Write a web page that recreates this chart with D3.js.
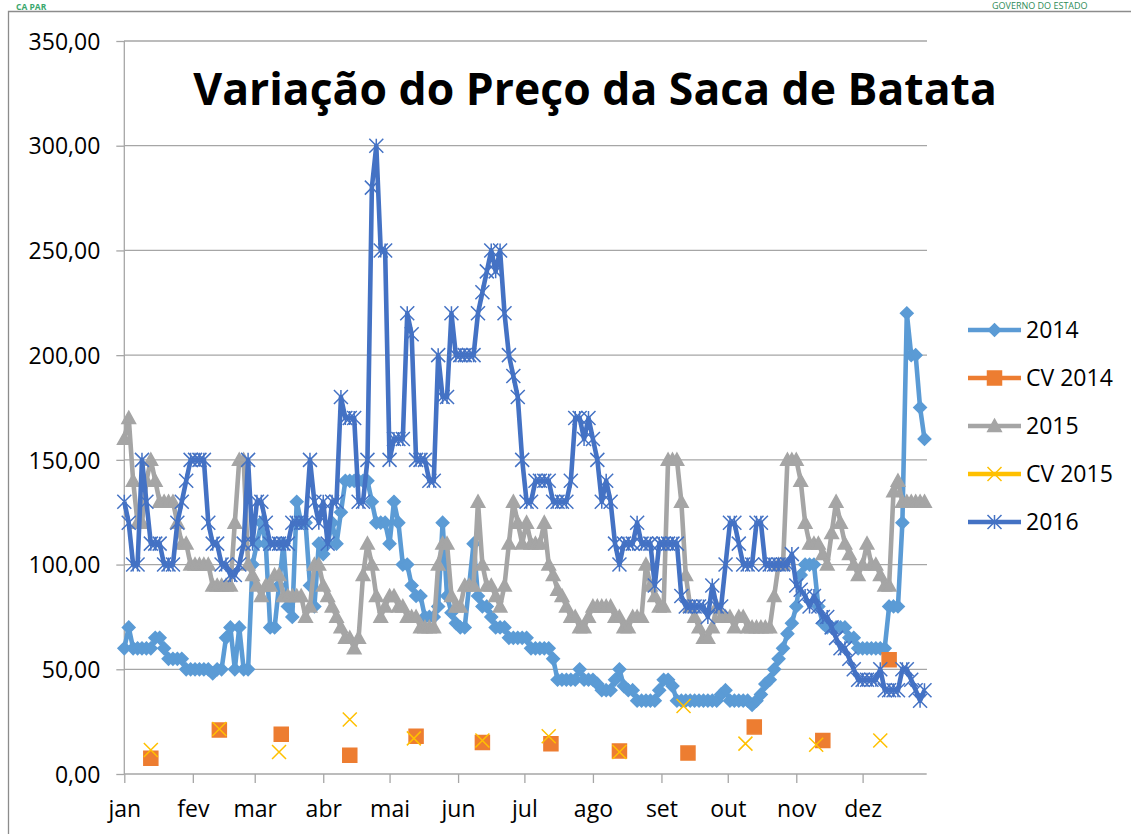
<!DOCTYPE html>
<html><head><meta charset="utf-8">
<script src="https://cdn.jsdelivr.net/npm/d3@7"></script>
<style>html,body{margin:0;padding:0;background:#fff;} svg{display:block;}</style>
</head><body>
<svg id="chart" width="1131" height="834"></svg>
<script>
// ---- data ----
const months = ["jan","fev","mar","abr","mai","jun","jul","ago","set","out","nov","dez"];
const yTicks = [0,50,100,150,200,250,300,350];
const seriesNames = ["2014","CV 2014","2015","CV 2015","2016"];
// day-of-year of each price reading (every 2 days)
const sampleDays = d3.range(0, 363, 2);
const price2014 = [60,70,60,60,60,60,60,65,65,60, 55,55,55,55,50,50,50,50,50,50,
  48,50,50,65,70,50,70,50,50,100, 110,120,110,70,70,90,110,80,75,130,
  120,120,90,80,110,105,110,120,110,125, 140,140,140,140,140,140,130,120,120,120,
  110,130,120,100,100,90,85,85,75,75, 75,80,120,85,77,72,70,70,90,110,
  85,80,80,75,70,70,70,65,65,65, 65,65,60,60,60,60,60,55,45,45,
  45,45,45,50,45,45,45,43,40,40, 40,45,50,42,40,40,35,35,35,35,
  35,40,45,45,42,35,35,35,35,35, 35,35,35,35,35,38,40,35,35,35,
  35,35,33,35,38,43,45,50,55,60, 67,72,80,95,100,100,100,80,72,70,
  70,70,70,70,65,65,60,60,60,60, 60,60,60,80,80,80,120,220,200,200,
  175,160];
const price2015 = [160,170,140,120,120,140,150,140,130,130, 130,130,120,110,110,100,100,100,100,100,
  90,90,90,90,90,120,150,150,100,95, 90,85,90,90,95,95,85,85,85,85,
  85,75,80,100,100,90,85,80,75,70, 65,65,60,65,95,110,100,85,75,80,
  85,85,80,80,75,75,75,70,70,70, 70,100,110,110,85,80,80,90,90,90,
  130,100,90,90,85,80,90,110,130,120, 110,120,110,110,110,120,100,95,88,85,
  80,75,75,70,70,75,80,80,80,80, 80,75,75,70,70,75,75,75,100,90,
  85,80,80,150,150,150,130,95,80,75, 70,65,65,70,80,75,75,75,70,75,
  75,70,70,70,70,70,70,85,100,100, 150,150,150,140,120,110,110,110,105,100,
  115,130,120,110,105,100,95,100,110,100, 100,95,90,90,135,140,130,130,130,130,
  130,130];
const price2016 = [130,120,100,100,150,130,110,110,110,100, 100,100,120,130,140,150,150,150,150,120,
  110,110,100,100,95,95,100,110,150,110, 130,130,120,110,110,110,110,110,120,120,
  120,120,150,130,120,130,110,130,130,180, 170,170,170,130,130,150,280,300,250,250,
  150,160,160,160,220,210,150,150,150,140, 140,200,180,180,220,200,200,200,200,200,
  220,230,240,250,240,250,220,200,190,180, 150,130,130,140,140,140,140,130,130,130,
  130,140,170,170,160,170,160,150,130,140, 130,110,100,110,110,110,120,110,110,110,
  90,110,110,110,110,110,85,80,80,80, 80,80,75,90,80,80,100,120,120,110,
  100,100,100,120,120,100,100,100,100,100, 100,105,90,88,85,80,85,80,75,75,
  70,65,60,60,55,50,45,45,45,45, 45,50,40,40,40,40,50,50,45,40,
  35,40];
const cv2014Days = [12,43,71,102,132,162,193,224,255,285,316,346];
const cv2014 = [7.5,21,19,9,18,15,14.5,11,10,22.5,16,54.5];
const cv2015Days = [12,43,70,102,131,162,192,224,253,281,313,342];
const cv2015 = [11.5,21.5,10.5,26,17,16,18,10.5,32.5,14.5,14,16];

// ---- setup ----
const FONT = "'Open Sans', 'DejaVu Sans', sans-serif";
const colors = {"2014":"#5B9BD5","CV 2014":"#ED7D31","2015":"#A5A5A5","CV 2015":"#FFC000","2016":"#4472C4"};
const svg = d3.select("#chart");
const day = d => new Date(Date.UTC(2014,0,1) + d*86400000);
const x = d3.scaleUtc().domain([day(0), day(363)]).range([124.3, 926.7]);
const y = d3.scaleLinear().domain([0,350]).range([774, 41]);
const gridColor = "#a6a6a6";

// frame
svg.append("path").attr("d","M8.5,834 L8.5,11.5 L1131,11.5").attr("fill","none").attr("stroke","#8c8c8c").attr("stroke-width",1.3);

// gridlines
svg.append("g").selectAll("line").data(yTicks.slice(1)).join("line")
  .attr("x1",124).attr("x2",927).attr("y1",d=>y(d)).attr("y2",d=>y(d))
  .attr("stroke",gridColor).attr("stroke-width",1.3);

// y axis
const yAxis = svg.append("g").attr("transform","translate(124.3,0)")
  .call(d3.axisLeft(y).tickValues(yTicks).tickSize(8).tickFormat(d=>d.toFixed(2).replace(".",",")));
yAxis.selectAll("path,line").attr("stroke",gridColor).attr("stroke-width",1.3);
yAxis.selectAll("text").attr("x",-24).attr("dy","0.36em").attr("fill","#000")
  .style("font-family",FONT).style("font-size","23px");
yAxis.select(".domain").attr("d","M0,41V774");

// x axis
const monthStarts = months.map((m,i)=>new Date(Date.UTC(2014,i,1)));
const xAxis = svg.append("g").attr("transform","translate(0,774)")
  .call(d3.axisBottom(x).tickValues(monthStarts).tickSize(9).tickFormat((d,i)=>months[i]));
xAxis.selectAll("path,line").attr("stroke",gridColor).attr("stroke-width",1.3);
xAxis.select(".domain").attr("d","M124.3,0H926.7");
xAxis.selectAll("text").attr("y",43).attr("dy",0).attr("fill","#000")
  .style("font-family",FONT).style("font-size","23px");

// marker shapes
const shapes = {
  diamond: r=>`M0,${-r}L${r},0L0,${r}L${-r},0Z`,
  triangle: r=>`M0,${-r}L${r},${r*0.8}L${-r},${r*0.8}Z`,
  square: r=>`M${-r},${-r}H${r}V${r}H${-r}Z`,
  star: r=>`M${-r},${-r}L${r},${r}M${-r},${r}L${r},${-r}M0,${-r}L0,${r}`,
  cross: r=>`M${-r},${-r}L${r},${r}M${-r},${r}L${r},${-r}`
};
const markerDef = {
  "2014":{shape:"diamond",r:6.3,fill:true},
  "CV 2014":{shape:"square",r:7,fill:true},
  "2015":{shape:"triangle",r:6.8,fill:true},
  "CV 2015":{shape:"cross",r:7,fill:false},
  "2016":{shape:"star",r:7,fill:false}
};
function drawMarkers(g, pts, name){
  const m = markerDef[name], c = colors[name];
  g.selectAll("path.m").data(pts).join("path").attr("class","m")
    .attr("transform",d=>`translate(${d[0]},${d[1]})`)
    .attr("d",shapes[m.shape](m.r))
    .attr("fill",m.fill?c:"none").attr("stroke",c).attr("stroke-width",1.5);
}

const line = d3.line().x(d=>d[0]).y(d=>d[1]);
const priceSeries = {"2014":price2014,"2015":price2015,"2016":price2016};
const cvSeries = {"CV 2014":[cv2014Days,cv2014],"CV 2015":[cv2015Days,cv2015]};

const plot = svg.append("g");
seriesNames.forEach(name=>{
  const g = plot.append("g");
  if(priceSeries[name]){
    const pts = priceSeries[name].map((v,i)=>[x(day(sampleDays[i])), y(v)]);
    g.append("path").attr("d",line(pts)).attr("fill","none").attr("stroke",colors[name])
      .attr("stroke-width",4.6).attr("stroke-linejoin","round");
    drawMarkers(g, pts, name);
  } else {
    const [ds, vs] = cvSeries[name];
    const pts = vs.map((v,i)=>[x(day(ds[i])), y(v)]);
    drawMarkers(g, pts, name);
  }
});

// legend
const legend = svg.append("g");
seriesNames.forEach((name,i)=>{
  const ly = 330 + i*48;
  const g = legend.append("g");
  g.append("line").attr("x1",968).attr("x2",1021).attr("y1",ly).attr("y2",ly)
    .attr("stroke",colors[name]).attr("stroke-width",4.6);
  drawMarkers(g, [[994.5, ly]], name);
  g.append("text").attr("x",1026).attr("y",ly).attr("dy","0.36em").text(name)
    .style("font-family",FONT).style("font-size","23px").attr("fill","#000");
});

// title
const title = svg.append("text").attr("x",595).attr("y",105).attr("text-anchor","middle")
  .style("font-family",FONT).style("font-weight","bold").style("font-size","46px")
  .attr("fill","#000").text("Variação do Preço da Saca de Batata");
const tl = title.node().getComputedTextLength();
title.style("font-size", (46*804/tl).toFixed(1)+"px");

// header decorations (kept fully inside the picture)
svg.append("text").attr("x",992).attr("y",9).text("GOVERNO DO ESTADO")
  .style("font-family",FONT).style("font-size","9px").attr("fill","#2e8b57");
svg.append("text").attr("x",16).attr("y",10).text("CA PAR")
  .style("font-family",FONT).style("font-weight","bold").style("font-size","8.5px").attr("fill","#3aa76d");
</script>
</body></html>
